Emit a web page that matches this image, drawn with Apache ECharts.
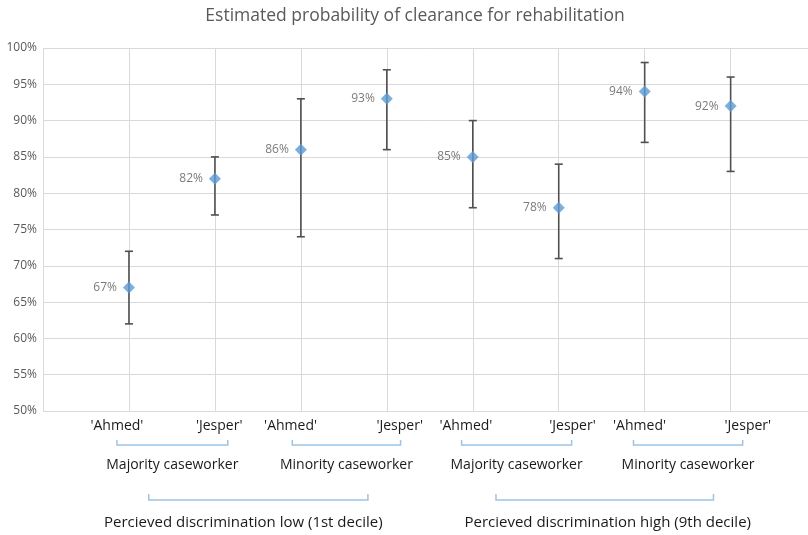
<!DOCTYPE html>
<html><head><meta charset="utf-8">
<script src="https://cdn.jsdelivr.net/npm/echarts@6/dist/echarts.min.js"></script>
<style>html,body{margin:0;padding:0;background:#fff}#c{width:808px;height:535px}</style>
</head><body><div id="c"></div>
<script>
const names = ["'Ahmed'","'Jesper'","'Ahmed'","'Jesper'","'Ahmed'","'Jesper'","'Ahmed'","'Jesper'"];
const xPos = [1,2,3,4,5,6,7,8];
const estimate = [67,82,86,93,85,78,94,92];
const lower = [62,77,74,86,78,71,87,83];
const upper = [72,85,93,97,90,84,98,96];
const caseworkerGroups = ['Majority caseworker','Minority caseworker','Majority caseworker','Minority caseworker'];
const discriminationGroups = ['Percieved discrimination low (1st decile)','Percieved discrimination high (9th decile)'];
const yTicks = [50,55,60,65,70,75,80,85,90,95,100];
const xGridTicks = [0,1,2,3,4,5,6,7,8];

// annotation layout (x in axis units)
const nameLabelX = [0.86,2.05,2.88,4.15,4.92,6.16,6.94,8.2];
const smallBrackets = [[0.86,2.15],[2.9,4.16],[4.87,6.15],[6.87,8.14]];
const bigBrackets = [[1.23,3.78],[5.27,7.8]];
const bigTextX = [2.33,6.57];

const FONT = 'Open Sans';
const chart = echarts.init(document.getElementById('c'));
const pts = xPos.map((x,i)=>[x,estimate[i]]);
const errs = xPos.map((x,i)=>[x,lower[i],upper[i]]);
chart.setOption({
  animation:false,
  textStyle:{fontFamily:FONT},
  title:{text:'Estimated probability of clearance for rehabilitation',left:410,textAlign:'center',top:2,
    textStyle:{fontFamily:FONT,fontSize:17.5,fontWeight:'normal',color:'#595959'}},
  grid:{left:43,top:48,bottom:124,right:0,containLabel:false},
  xAxis:{type:'value',min:0,max:8.9,interval:1,axisLine:{show:false},axisTick:{show:false},axisLabel:{show:false},
    splitLine:{show:false}},
  yAxis:{type:'value',min:yTicks[0],max:yTicks[yTicks.length-1],interval:5,axisLine:{show:false},axisTick:{show:false},
    axisLabel:{formatter:'{value}%',color:'#595959',fontSize:12,margin:6,fontFamily:FONT},
    splitLine:{lineStyle:{color:'#D9D9D9',width:1}}},
  series:[
    {type:'custom',data:errs,z:2,renderItem:function(params,api){
      const x=api.value(0);const lo=api.coord([x,api.value(1)]);const hi=api.coord([x,api.value(2)]);
      const w=4;const st={stroke:'#505050',lineWidth:1.6};
      return {type:'group',children:[
        {type:'line',shape:{x1:lo[0],y1:lo[1],x2:hi[0],y2:hi[1]},style:st},
        {type:'line',shape:{x1:hi[0]-w,y1:hi[1],x2:hi[0]+w,y2:hi[1]},style:st},
        {type:'line',shape:{x1:lo[0]-w,y1:lo[1],x2:lo[0]+w,y2:lo[1]},style:st}
      ]};
    },
    markLine:{silent:true,symbol:'none',animation:false,z:1,label:{show:false},
      lineStyle:{color:'#D9D9D9',width:1,type:'solid'},
      data:xGridTicks.map(v=>({xAxis:v}))}},
    {type:'scatter',data:pts,z:3,symbol:'diamond',symbolSize:12,itemStyle:{color:'#5B9BD5'},
      label:{show:true,position:'left',distance:6,color:'#595959',fontSize:12,fontFamily:FONT,
        formatter:p=>p.value[1]+'%'}}
  ]
});

function px(x){return chart.convertToPixel({gridIndex:0},[x,50])[0];}
const g=[];
const txtStyle=(t,x,y,size)=>({type:'text',x:x,y:y,style:{text:t,fill:'#1a1a1a',font:size+'px "'+FONT+'"',textAlign:'center',textVerticalAlign:'middle'}});
const bracket=(a,b,y,h)=>({type:'polyline',shape:{points:[[a,y-h],[a,y],[b,y],[b,y-h]]},style:{stroke:'#9DC3E6',lineWidth:1.5,fill:null}});
names.forEach((n,i)=>g.push(txtStyle(n,px(nameLabelX[i]),426,14)));
smallBrackets.forEach((b,i)=>{const a=px(b[0]),c=px(b[1]);g.push(bracket(a,c,445,5));g.push(txtStyle(caseworkerGroups[i],(a+c)/2,465,14));});
bigBrackets.forEach((b,i)=>{const a=px(b[0]),c=px(b[1]);g.push(bracket(a,c,500,6));g.push(txtStyle(discriminationGroups[i],px(bigTextX[i]),523,15));});
chart.setOption({graphic:g});
</script></body></html>
